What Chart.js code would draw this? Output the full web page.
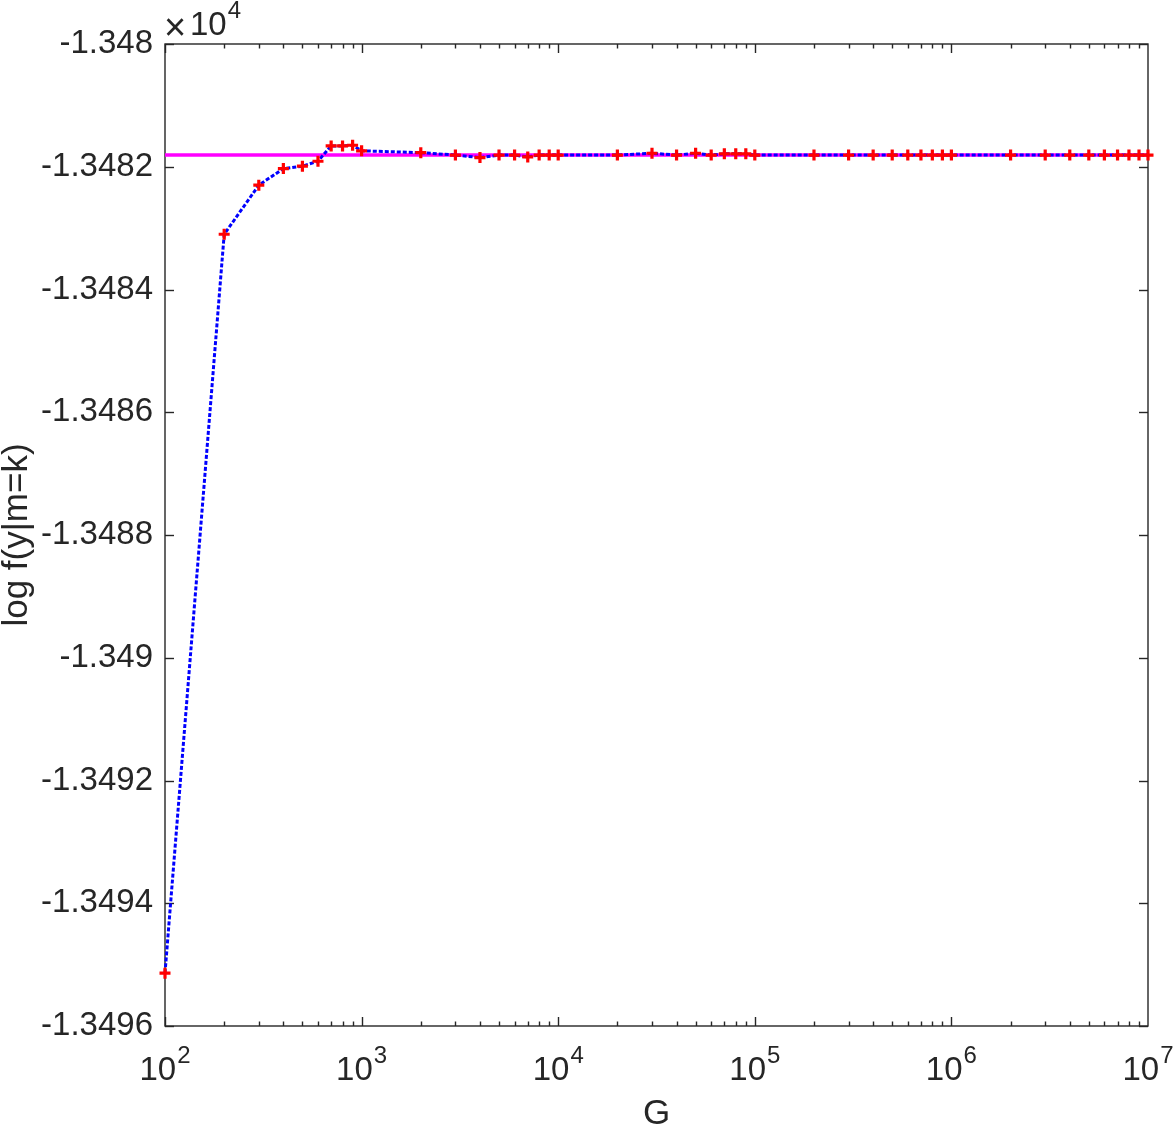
<!DOCTYPE html>
<html>
<head>
<meta charset="utf-8">
<script src="https://cdn.jsdelivr.net/npm/chart.js@4/dist/chart.umd.min.js"></script>
<style>
    body { margin: 0; background: #fff; }
    .chartBox { width: 1173px; height: 1128px; position: relative; }
</style>
</head>
<body>
<div class="chartBox"><canvas id="chart"></canvas></div>
<script>
// G values and log f(y|m=k) (y in raw units, axis shows x1e4)
const gValues = [
    100, 200, 300, 400, 500, 600, 700, 800, 900,
    1e3, 2e3, 3e3, 4e3, 5e3, 6e3, 7e3, 8e3, 9e3,
    1e4, 2e4, 3e4, 4e4, 5e4, 6e4, 7e4, 8e4, 9e4,
    1e5, 2e5, 3e5, 4e5, 5e5, 6e5, 7e5, 8e5, 9e5,
    1e6, 2e6, 3e6, 4e6, 5e6, 6e6, 7e6, 8e6, 9e6,
    1e7,
];
const logLik = [
    -13495.14, -13483.10, -13482.30, -13482.03, -13481.99, -13481.91, -13481.66, -13481.66, -13481.65,
    -13481.74, -13481.77, -13481.81, -13481.85, -13481.81, -13481.81, -13481.84, -13481.81, -13481.81,
    -13481.81, -13481.81, -13481.78, -13481.81, -13481.78, -13481.81, -13481.79, -13481.79, -13481.79,
    -13481.81, -13481.81, -13481.81, -13481.81, -13481.81, -13481.81, -13481.81, -13481.81, -13481.81,
    -13481.81, -13481.81, -13481.81, -13481.81, -13481.81, -13481.81, -13481.81, -13481.81, -13481.81,
    -13481.81,
];
const refLevel = -13481.81;
const xRange = [100, 1e7];
const yRange = [-13496, -13480];
const yStep = 2;

const textColor = "#262626";
const fontFamily = "'Liberation Sans', Arial, Helvetica, sans-serif";

// matlab style box: ticks pointing inward, superscript decade labels, x10^4 header
const matlabAxes = {
    id: "matlabAxes",
    beforeDatasetsDraw(chart) {
        const { ctx, chartArea: a, scales } = chart;
        const line = (x1, y1, x2, y2) => {
            ctx.beginPath();
            ctx.moveTo(x1, y1);
            ctx.lineTo(x2, y2);
            ctx.stroke();
        };
        ctx.save();
        ctx.strokeStyle = textColor;
        ctx.lineWidth = 1.4;
        ctx.strokeRect(a.left, a.top, a.right - a.left, a.bottom - a.top);

        scales.y.ticks.forEach((t) => {
            const py = Math.round(scales.y.getPixelForValue(t.value)) + 0.5;
            line(a.left, py, a.left + 9, py);
            line(a.right, py, a.right - 9, py);
        });

        for (let e = 2; e < 7; e++) {
            for (let m = 1; m <= 9; m++) {
                const px = Math.round(scales.x.getPixelForValue(m * 10 ** e)) + 0.5;
                const len = m === 1 ? 9 : 4.5;
                line(px, a.bottom, px, a.bottom - len);
                line(px, a.top, px, a.top + len);
            }
        }
        ctx.restore();
    },
    afterDraw(chart) {
        const { ctx, chartArea: a, scales } = chart;
        ctx.save();
        ctx.fillStyle = textColor;
        ctx.textBaseline = "alphabetic";
        ctx.textAlign = "left";

        // decade labels 10^n
        for (let e = 2; e <= 7; e++) {
            const px = scales.x.getPixelForValue(10 ** e);
            ctx.font = "33px " + fontFamily;
            const wBase = ctx.measureText("10").width;
            ctx.font = "24px " + fontFamily;
            const wExp = ctx.measureText(String(e)).width;
            const start = px - (wBase + 1 + wExp) / 2;
            ctx.font = "33px " + fontFamily;
            ctx.fillText("10", start, 1080);
            ctx.font = "24px " + fontFamily;
            ctx.fillText(String(e), start + wBase + 1, 1063);
        }

        // exponent header
        ctx.font = "38px " + fontFamily;
        ctx.fillText("\u00d7", 164, 40);
        ctx.font = "33px " + fontFamily;
        ctx.fillText("10", 190, 35);
        const w10 = ctx.measureText("10").width;
        ctx.font = "24px " + fontFamily;
        ctx.fillText("4", 190 + w10 + 1, 18);

        // axis titles
        ctx.font = "35px " + fontFamily;
        ctx.textAlign = "center";
        ctx.fillText("G", (a.left + a.right) / 2, 1124);
        ctx.translate(27, (a.top + a.bottom) / 2);
        ctx.rotate(-Math.PI / 2);
        ctx.fillText("log f(y|m=k)", 0, 0);
        ctx.restore();
    },
};

const points = gValues.map((g, i) => ({ x: g, y: logLik[i] }));

new Chart(document.getElementById("chart"), {
    type: "line",
    data: {
        datasets: [
            {
                label: "log f(y|m=k)",
                data: points,
                borderColor: "#0000ff",
                borderWidth: 3,
                borderDash: [4, 2],
                tension: 0,
                pointStyle: "cross",
                pointRadius: 5.5,
                pointBorderWidth: 3.2,
                pointBorderColor: "#ff0000",
                pointBackgroundColor: "#ff0000",
                clip: 12,
            },
            {
                label: "reference",
                data: xRange.map((g) => ({ x: g, y: refLevel })),
                borderColor: "#ff00ff",
                borderWidth: 3.5,
                pointRadius: 0,
            },
        ],
    },
    options: {
        responsive: true,
        maintainAspectRatio: false,
        animation: false,
        layout: {
            padding: { top: 44, right: 25, left: 0, bottom: 0 },
        },
        plugins: {
            legend: { display: false },
            tooltip: { enabled: false },
        },
        scales: {
            x: {
                type: "logarithmic",
                min: xRange[0],
                max: xRange[1],
                grid: { display: false, drawTicks: false },
                border: { display: false },
                ticks: { display: false },
                afterFit: (scale) => {
                    scale.height = 102;
                },
            },
            y: {
                type: "linear",
                min: yRange[0],
                max: yRange[1],
                grid: { display: false, drawTicks: false },
                border: { display: false },
                ticks: {
                    stepSize: yStep,
                    padding: 12,
                    color: textColor,
                    font: { family: fontFamily, size: 33 },
                    callback: (v) => String(+(v / 1e4).toFixed(5)),
                },
                afterFit: (scale) => {
                    scale.width = 165;
                },
            },
        },
    },
    plugins: [matlabAxes],
});
</script>
</body>
</html>
